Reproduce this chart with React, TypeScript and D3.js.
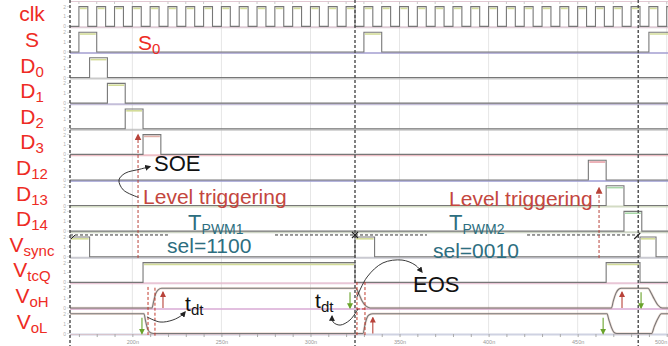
import { useEffect, useRef } from 'react'
import * as d3 from 'd3'

const W = 668
const H = 346

// row labels: main text + subscript
const rowLabels: [string, string][] = [
  ['clk', ''], ['S', ''], ['D', '0'], ['D', '1'], ['D', '2'], ['D', '3'],
  ['D', '12'], ['D', '13'], ['D', '14'], ['V', 'sync'], ['V', 'tcQ'], ['V', 'oH'], ['V', 'oL']
]
const baseColors = ['#d8c0cc', '#aaa4d4', '#bdbdbd', '#b6aed0', '#bcbcbc', '#eab0b8', '#a3a3d6',
  '#c9d3b6', '#c4ccb8', '#bdbdc6', '#e4b8cc', '#dcb0d8', '#c4c8dc']
const topColors = ['#d3dc98', '#d3dc98', '#d3dc98', '#d3dc98', '#d3dc98', '#e2b0a8', '#e8a0a8',
  '#a8d8a8', '#a8d8a8', '#d3dc98', '#d3dc98']

// clock rising edges (ns), each high for 5 ns
const clkRise = [170, 180, 190, 200, 210, 220, 230, 240, 250, 260, 270, 280, 290, 300, 310, 320,
  330, 340, 350, 360, 370, 380, 390, 400, 410, 420, 430, 440, 450, 460, 470, 480, 490, 500]
const clkHigh = 5

// digital pulses [start, end] in ns
const sPulses: [number, number][] = [[170, 180], [330, 340], [490, 510]]
const d0Pulses: [number, number][] = [[176, 186]]
const d1Pulses: [number, number][] = [[186, 196]]
const d2Pulses: [number, number][] = [[196, 206]]
const d3Pulses: [number, number][] = [[206, 216]]
const d12Pulses: [number, number][] = [[456, 466]]
const d13Pulses: [number, number][] = [[466, 476]]
const d14Pulses: [number, number][] = [[476, 486]]
const vsyncPulses: [number, number][] = [[165, 176], [325, 336], [485, 494]]
const vtcqPulses: [number, number][] = [[206, 325], [466, 485]]

// analog gate outputs [ns, level 0..1]
const vohPoints: [number, number][] = [[165, 0], [211, 0], [212, 0.35], [213, 0.7], [214.5, 0.92], [216.5, 1],
  [325.5, 1], [327, 0.75], [329, 0.35], [331, 0.1], [333.5, 0], [469, 0], [470, 0.35], [471.5, 0.75],
  [473, 0.95], [474.5, 1], [489.5, 1], [491, 0.8], [493, 0.45], [495, 0.15], [497.5, 0], [510, 0]]
const volPoints: [number, number][] = [[165, 1], [206.5, 1], [207.5, 0.6], [208.5, 0.25], [210, 0.05], [212, 0],
  [329.5, 0], [330.5, 0.4], [331.5, 0.75], [333, 0.95], [335, 1], [466.5, 1], [467.5, 0.7], [469, 0.3],
  [470.5, 0.05], [472, 0], [491.5, 0], [493, 0.35], [495, 0.75], [497, 1], [510, 1]]

const syncTimes = [165, 325, 484]
const gridTimes = [200, 250, 300, 350, 400, 450, 500]
const axisLabels = ['200n', '250n', '300n', '350n', '400n', '450n', '500n']

// annotations: [ns, lane]
const soeCurve: [number, number][] = [[203.4, 7.65], [194.9, 7.36], [192.5, 6.97], [195.9, 6.71], [204.3, 6.55], [209.9, 6.45]]
const eosCurve: [number, number][] = [[326.1, 11.54], [331.8, 10.76], [340.7, 10.21], [351.4, 10.1], [358.7, 10.29], [362.6, 10.57]]
const tdtCurve1: [number, number][] = [[208.2, 12.32], [215.5, 12.52], [222.8, 12.44], [227.9, 12.25], [229.6, 12.13]]
const tdtCurve2: [number, number][] = [[326.7, 12.01], [322.2, 12.44], [316.6, 12.64], [312.7, 12.52], [312.1, 12.29]]
const trigLines: [number, number, number][] = [[203.2, 10.02, 5.21], [462, 10.02, 7.29]]
const deadLines: [number, number][] = [[208.8, 11.15], [212.7, 11.18], [326.1, 10.96], [330.6, 10.96]]
const deadBar: [number, number, number] = [326.1, 331.8, 12.01]
const riseMarks: [number, number][] = [[217.2, 11], [335, 12], [474.9, 11]]
const fallMarks: [number, number][] = [[205.4, 12], [322.2, 11], [485.6, 11], [464.3, 12]]
const periodLine: [number, number][] = [[165, 220], [280.1, 365.4], [421.6, 484]]
const periodLane = 9.12

const FONT = '"Liberation Sans", Arial, sans-serif'

export default function App() {
  const svgRef = useRef<SVGSVGElement>(null)

  useEffect(() => {
    document.body.style.margin = '0'
    const svg = d3.select(svgRef.current)
    svg.selectAll('*').remove()

    const x = d3.scaleLinear().domain([165, 325]).range([70, 355])
    const lane = d3.scaleLinear().domain([0, 13]).range([1.5, 334.3])
    const lvl = (row: number, v: number) => lane(row + 0.97 - 0.77 * v)

    const defs = svg.append('defs')
    defs.append('clipPath').attr('id', 'plot')
      .append('rect').attr('x', 70).attr('y', 0).attr('width', W - 70).attr('height', H)
    const marker = (id: string, color: string, size: number) => {
      defs.append('marker')
        .attr('id', id)
        .attr('viewBox', '0 0 10 10')
        .attr('refX', 8).attr('refY', 5)
        .attr('markerWidth', size).attr('markerHeight', size)
        .attr('markerUnits', 'userSpaceOnUse')
        .attr('orient', 'auto-start-reverse')
        .append('path').attr('d', 'M0,0 L10,5 L0,10 z').attr('fill', color)
    }
    marker('arrBlack', '#222', 6)
    marker('arrRed', '#b8433a', 6)
    marker('arrGreen', '#6aa32c', 6)
    marker('arrDash', '#b8433a', 7)

    svg.append('rect').attr('width', W).attr('height', H).attr('fill', '#fff')

    // grid
    svg.append('g').selectAll('line').data(gridTimes).join('line')
      .attr('x1', d => x(d)).attr('x2', d => x(d))
      .attr('y1', 2).attr('y2', lvl(12, 0))
      .style('stroke', '#e6e6e6').style('stroke-width', 1)

    // top border with ticks
    svg.append('line').attr('x1', 70).attr('x2', W).attr('y1', 1.5).attr('y2', 1.5)
      .style('stroke', '#e2c8d2').style('stroke-width', 1)
    svg.append('g').selectAll('line').data(clkRise).join('line')
      .attr('x1', d => x(d)).attr('x2', d => x(d)).attr('y1', 1.5).attr('y2', 4)
      .style('stroke', '#c8c8c8')

    const g = svg.append('g').attr('clip-path', 'url(#plot)')

    // baselines
    g.selectAll('line.base').data(rowLabels).join('line')
      .attr('class', 'base')
      .attr('x1', 70).attr('x2', W)
      .attr('y1', (_, i) => lvl(i, 0) + 1).attr('y2', (_, i) => lvl(i, 0) + 1)
      .style('stroke', (_, i) => baseColors[i]).style('stroke-width', 2).style('opacity', 0.8)

    const clkPulses = clkRise.map(t => [t, t + clkHigh] as [number, number])
    const digital: [number, number][][] = [clkPulses, sPulses, d0Pulses, d1Pulses, d2Pulses, d3Pulses,
      d12Pulses, d13Pulses, d14Pulses, vsyncPulses, vtcqPulses]

    const lineFn = d3.line<[number, number]>()

    digital.forEach((pulses, row) => {
      const pts: [number, number][] = [[x(160), lvl(row, 0)]]
      pulses.forEach(([a, b]) => {
        pts.push([x(a), lvl(row, 0)], [x(a), lvl(row, 1)], [x(b), lvl(row, 1)], [x(b), lvl(row, 0)])
      })
      pts.push([x(520), lvl(row, 0)])
      // top highlight
      g.append('g').selectAll('line').data(pulses).join('line')
        .attr('x1', d => x(d[0]) + 1).attr('x2', d => x(d[1]) - 1)
        .attr('y1', lvl(row, 1) + 1.8).attr('y2', lvl(row, 1) + 1.8)
        .style('stroke', topColors[row]).style('stroke-width', 1.6)
      g.append('path').attr('d', lineFn(pts))
        .style('fill', 'none').style('stroke', '#777').style('stroke-width', 1.1)
    })

    // analog VoH / VoL
    const curveFn = d3.line<[number, number]>().curve(d3.curveMonotoneX)
    ;[[11, vohPoints], [12, volPoints]].forEach(([row, pts]) => {
      const r = row as number
      const p = (pts as [number, number][]).map(([t, v]) => [x(t), lvl(r, v)] as [number, number])
      g.append('path').attr('d', curveFn(p))
        .style('fill', 'none').style('stroke', '#cf9a86').style('stroke-width', 2.4).style('opacity', 0.35)
      g.append('path').attr('d', curveFn(p))
        .style('fill', 'none').style('stroke', '#777').style('stroke-width', 1.1)
    })

    // bottom axis
    const axisY = lvl(12, 0) + 0.5
    const minor = svg.append('g').attr('transform', `translate(0,${axisY})`)
      .call(d3.axisBottom(x).tickValues(clkRise).tickSize(3).tickFormat(() => ''))
    minor.select('.domain').style('stroke', '#d8c4cc')
    minor.selectAll('line').style('stroke', '#aaa')
    const major = svg.append('g').attr('transform', `translate(0,${axisY})`)
      .call(d3.axisBottom(x).tickValues(gridTimes).tickSize(0).tickPadding(6)
        .tickFormat((_, i) => axisLabels[i]))
    major.select('.domain').remove()
    major.selectAll('text').style('fill', '#999').style('font-size', '5.5px').style('font-family', FONT)
      .attr('text-anchor', (_, i) => (i === gridTimes.length - 1 ? 'end' : 'middle'))

    // small y axes
    rowLabels.forEach((_, i) => {
      ;[[1, '2'], [0.5, '1'], [0, '0']].forEach(([v, s]) => {
        svg.append('text').attr('x', 66).attr('y', lvl(i, v as number) + 2)
          .attr('text-anchor', 'end').style('font-size', '5px').style('fill', '#b0b0b0')
          .style('font-family', FONT).text(s as string)
        svg.append('line').attr('x1', 67).attr('x2', 70)
          .attr('y1', lvl(i, v as number)).attr('y2', lvl(i, v as number))
          .style('stroke', '#c8c8c8').style('stroke-width', 0.6)
      })
    })

    // sync dashed verticals
    svg.append('g').selectAll('line').data(syncTimes).join('line')
      .attr('x1', d => x(d)).attr('x2', d => x(d)).attr('y1', 0).attr('y2', H)
      .style('stroke', '#4a4a4a').style('stroke-width', 1.4).style('stroke-dasharray', '3,2')

    // period dashed horizontal
    svg.append('g').selectAll('line').data(periodLine).join('line')
      .attr('x1', d => x(d[0])).attr('x2', d => x(d[1]))
      .attr('y1', lane(periodLane)).attr('y2', lane(periodLane))
      .style('stroke', '#333').style('stroke-width', 1).style('stroke-dasharray', '3,2')
    const py = lane(periodLane)
    const cx = x(syncTimes[1])
    svg.append('path').attr('d', `M${cx - 3},${py - 3}L${cx + 3},${py + 3}M${cx - 3},${py + 3}L${cx + 3},${py - 3}`)
      .style('stroke', '#222').style('stroke-width', 1.2)
    const lx = x(syncTimes[0])
    svg.append('path').attr('d', `M${lx + 1},${py + 4}L${lx + 5},${py}`).style('stroke', '#222').style('stroke-width', 1)
    const rx = x(syncTimes[2])
    svg.append('path').attr('d', `M${rx - 4},${py + 4}L${rx + 2},${py - 2}`).style('stroke', '#222').style('stroke-width', 1.2)

    // level triggering dashed arrows
    svg.append('g').selectAll('line').data(trigLines).join('line')
      .attr('x1', d => x(d[0])).attr('x2', d => x(d[0]))
      .attr('y1', d => lane(d[1])).attr('y2', d => lane(d[2]))
      .attr('marker-end', 'url(#arrDash)')
      .style('stroke', '#b8433a').style('stroke-width', 1).style('stroke-dasharray', '3,2')

    // dead-time markers
    svg.append('g').selectAll('line').data(deadLines).join('line')
      .attr('x1', d => x(d[0])).attr('x2', d => x(d[0]))
      .attr('y1', d => lane(d[1])).attr('y2', lane(13.07))
      .style('stroke', '#c0392b').style('stroke-width', 1).style('stroke-dasharray', '3,2')
    svg.append('line').attr('x1', x(deadBar[0])).attr('x2', x(deadBar[1]))
      .attr('y1', lane(deadBar[2])).attr('y2', lane(deadBar[2]))
      .style('stroke', '#c0392b').style('stroke-width', 1).style('stroke-dasharray', '3,2')

    svg.append('g').selectAll('line').data(riseMarks).join('line')
      .attr('x1', d => x(d[0])).attr('x2', d => x(d[0]))
      .attr('y1', d => lvl(d[1], 0)).attr('y2', d => lvl(d[1], 0.8))
      .attr('marker-end', 'url(#arrRed)')
      .style('stroke', '#b8433a').style('stroke-width', 1.1)
    svg.append('g').selectAll('line').data(fallMarks).join('line')
      .attr('x1', d => x(d[0])).attr('x2', d => x(d[0]))
      .attr('y1', d => lvl(d[1], 0.8)).attr('y2', d => lvl(d[1], 0))
      .attr('marker-end', 'url(#arrGreen)')
      .style('stroke', '#6aa32c').style('stroke-width', 1.1)

    // curved annotation arrows
    const annFn = d3.line<[number, number]>().x(d => x(d[0])).y(d => lane(d[1])).curve(d3.curveCatmullRom)
    ;[soeCurve, eosCurve, tdtCurve1, tdtCurve2].forEach(c => {
      svg.append('path').attr('d', annFn(c))
        .attr('marker-end', 'url(#arrBlack)')
        .style('fill', 'none').style('stroke', '#222').style('stroke-width', 0.9)
    })

    // texts
    const label = (t: number, u: number, main: string, sub: string, size: number, subSize: number,
      color: string, anchor = 'start', px?: number) => {
      const el = svg.append('text')
        .attr('x', px ?? x(t)).attr('y', lane(u))
        .attr('text-anchor', anchor)
        .style('font-family', FONT).style('font-size', `${size}px`).style('fill', color)
      el.append('tspan').text(main)
      if (sub) el.append('tspan').attr('dy', 4).style('font-size', `${subSize}px`).text(sub)
    }

    rowLabels.forEach(([m, s], i) => label(0, i + 0.78, m, s, 21, 15, '#ee2b24', 'middle', 32))

    label(203.2, 1.89, 'S', '0', 21, 15, '#ee2b24')
    label(212.2, 6.62, 'SOE', '', 22, 0, '#111')
    label(357.6, 11.35, 'EOS', '', 22, 0, '#111')
    label(206.0, 7.91, 'Level triggering', '', 21, 0, '#c4463e')
    label(377.8, 8.0, 'Level triggering', '', 21, 0, '#c4463e')
    label(229.6, 12.09, 't', 'dt', 21, 15, '#111')
    label(302.6, 11.97, 't', 'dt', 21, 15, '#111')
    label(231.3, 8.92, 'T', 'PWM1', 22, 14, '#2d6e80')
    label(377.8, 8.92, 'T', 'PWM2', 22, 14, '#2d6e80')
    label(219.5, 9.82, 'sel=1100', '', 21, 0, '#2d6e80')
    label(368.8, 10.0, 'sel=0010', '', 21, 0, '#2d6e80')
  }, [])

  return (
    <svg ref={svgRef} width={W} height={H}
      style={{ position: 'absolute', left: 0, top: 0, display: 'block' }} />
  )
}
